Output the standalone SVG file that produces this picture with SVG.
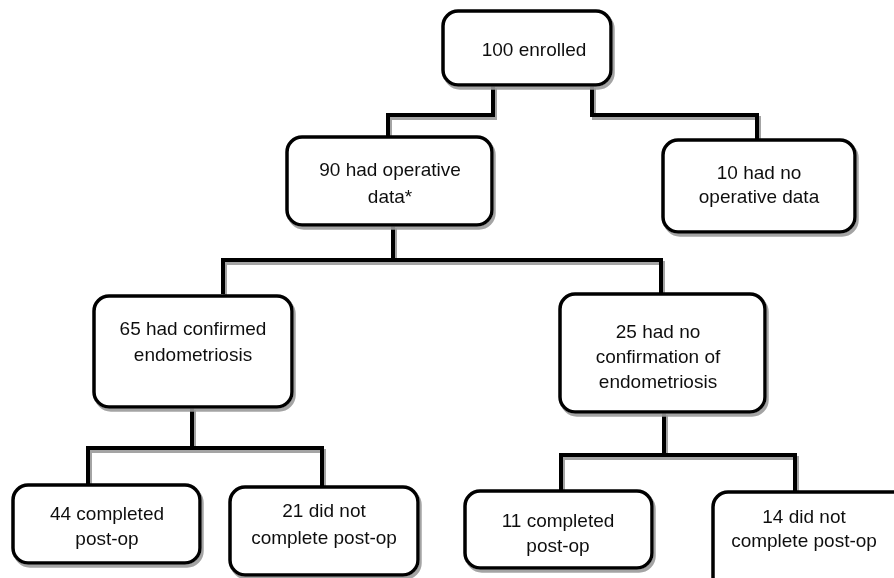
<svg xmlns="http://www.w3.org/2000/svg" width="894" height="578" viewBox="0 0 894 578">
<defs>
<filter id="sh" x="-5%" y="-5%" width="115%" height="120%">
<feDropShadow dx="2" dy="3" stdDeviation="0.6" flood-color="#9a9a9a" flood-opacity="0.9"/>
</filter>
<style>
.box{fill:#fff;stroke:#000;stroke-width:3.5}
.c{fill:none;stroke:#000;stroke-width:4;stroke-linejoin:miter;stroke-linecap:butt}
text{font-family:"Liberation Sans",Arial,sans-serif;font-size:19px;fill:#111;text-anchor:middle}
</style>
</defs>
<rect width="894" height="578" fill="#fff"/>
<g id="connectors" filter="url(#sh)">
<path class="c" d="M493 85V115H388V137"/>
<path class="c" d="M592 85V115H757V140"/>
<path class="c" d="M393 225V260"/>
<path class="c" d="M223 294V260H661V294"/>
<path class="c" d="M192 407V448"/>
<path class="c" d="M88 485V448H322V487"/>
<path class="c" d="M664 412V455"/>
<path class="c" d="M561 491V455H795V492"/>
</g>
<g id="n100" filter="url(#sh)">
<rect class="box" x="443" y="11" width="168" height="74" rx="15"/>
<text x="534" y="56">100 enrolled</text>
</g>
<g id="n90" filter="url(#sh)">
<rect class="box" x="287" y="137" width="205" height="88" rx="15"/>
<text x="390" y="176">90 had operative</text>
<text x="390" y="203">data*</text>
</g>
<g id="n10" filter="url(#sh)">
<rect class="box" x="663" y="140" width="192" height="92" rx="15"/>
<text x="759" y="179">10 had no</text>
<text x="759" y="203">operative data</text>
</g>
<g id="n65" filter="url(#sh)">
<rect class="box" x="94" y="296" width="198" height="111" rx="15"/>
<text x="193" y="335">65 had confirmed</text>
<text x="193" y="361">endometriosis</text>
</g>
<g id="n25" filter="url(#sh)">
<rect class="box" x="560" y="294" width="205" height="118" rx="15"/>
<text x="658" y="338">25 had no</text>
<text x="658" y="363">confirmation of</text>
<text x="658" y="388">endometriosis</text>
</g>
<g id="n44" filter="url(#sh)">
<rect class="box" x="13" y="485" width="187" height="78" rx="15"/>
<text x="107" y="520">44 completed</text>
<text x="107" y="545">post-op</text>
</g>
<g id="n21" filter="url(#sh)">
<rect class="box" x="230" y="487" width="188" height="88" rx="15"/>
<text x="324" y="517">21 did not</text>
<text x="324" y="544">complete post-op</text>
</g>
<g id="n11" filter="url(#sh)">
<rect class="box" x="465" y="491" width="187" height="77" rx="15"/>
<text x="558" y="527">11 completed</text>
<text x="558" y="552">post-op</text>
</g>
<g id="n14" filter="url(#sh)">
<rect class="box" x="713" y="492" width="200" height="100" rx="15"/>
<text x="804" y="523">14 did not</text>
<text x="804" y="547">complete post-op</text>
</g>
</svg>
